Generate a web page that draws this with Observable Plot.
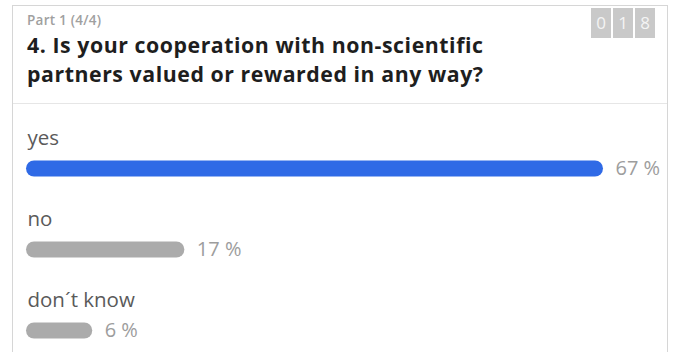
<!DOCTYPE html>
<html>
<head>
<meta charset="utf-8">
<script src="https://cdn.jsdelivr.net/npm/d3@7"></script>
<script src="https://cdn.jsdelivr.net/npm/@observablehq/plot@0.6"></script>
<style>
  html, body { margin: 0; padding: 0; background: #fff; }
  body { width: 674px; height: 352px; overflow: hidden; position: relative; font-family: "Open Sans", sans-serif; }
  .card { position: absolute; left: 12px; top: 5px; width: 656px; height: 420px; box-sizing: border-box; border: 1px solid #d6d6d6; }
  .part { position: absolute; left: 27px; top: 10.5px; font-size: 13.5px; font-weight: 600; color: #a0a0a0; line-height: 18px; letter-spacing: 0.25px; white-space: nowrap; }
  .tline { position: absolute; left: 27px; font-size: 21.3px; font-weight: 700; color: #1e1e1e; line-height: 29px; letter-spacing: 0.55px; white-space: nowrap; }
  .sep { position: absolute; left: 13px; top: 103px; width: 654px; height: 1px; background: #e6e6e6; }
  .badge { position: absolute; left: 591px; top: 8px; display: flex; gap: 2px; }
  .badge span { display: block; width: 20px; height: 30px; background: #c9c9c9; color: #f4f4f4; font-size: 17px; line-height: 30px; text-align: center; }
  #chart { position: absolute; left: 0; top: 104px; }
</style>
</head>
<body>
<div class="card"></div>
<div class="part" id="part"></div>
<div id="title"></div>
<div class="badge" id="badge"></div>
<div class="sep"></div>
<div id="chart"></div>
<script>
const partLabel = "Part 1 (4/4)";
const titleLines = ["4. Is your cooperation with non-scientific", "partners valued or rewarded in any way?"];
const badgeDigits = ["0", "1", "8"];
const categories = ["yes", "no", "don´t know"];
const percents = [67, 17, 6];
const barColors = ["#2f6ae6", "#ababab", "#ababab"];

document.getElementById("part").textContent = partLabel;
const titleEl = document.getElementById("title");
titleLines.forEach((t, i) => {
  const d = document.createElement("div");
  d.className = "tline";
  d.style.top = (29.5 + i * 29) + "px";
  d.textContent = t;
  titleEl.appendChild(d);
});
const badge = document.getElementById("badge");
badgeDigits.forEach(d => { const s = document.createElement("span"); s.textContent = d; badge.appendChild(s); });

const data = categories.map((c, i) => ({category: c, value: percents[i], color: barColors[i]}));

const chart = Plot.plot({
  width: 674,
  height: 248,
  marginLeft: 34,
  marginRight: 79,
  marginTop: 63,
  marginBottom: 22,
  style: {fontFamily: "Open Sans, sans-serif", background: "transparent"},
  x: {domain: [0, d3.max(percents)], axis: null},
  y: {type: "point", domain: categories, padding: 0, axis: null},
  marks: [
    Plot.ruleY(data, {y: "category", x1: 0, x2: "value", stroke: "color", strokeWidth: 16, strokeLinecap: "round"}),
    Plot.text(data, {y: "category", x: 0, text: "category", textAnchor: "start", lineAnchor: "bottom", dx: -7, dy: -24, fontSize: 20.5, fill: "#5a5a5a"}),
    Plot.text(data, {y: "category", x: "value", text: d => d.value + " %", textAnchor: "start", dx: 20, fontSize: 20, fill: "#9d9d9d"})
  ]
});
document.getElementById("chart").appendChild(chart);
</script>
</body>
</html>
